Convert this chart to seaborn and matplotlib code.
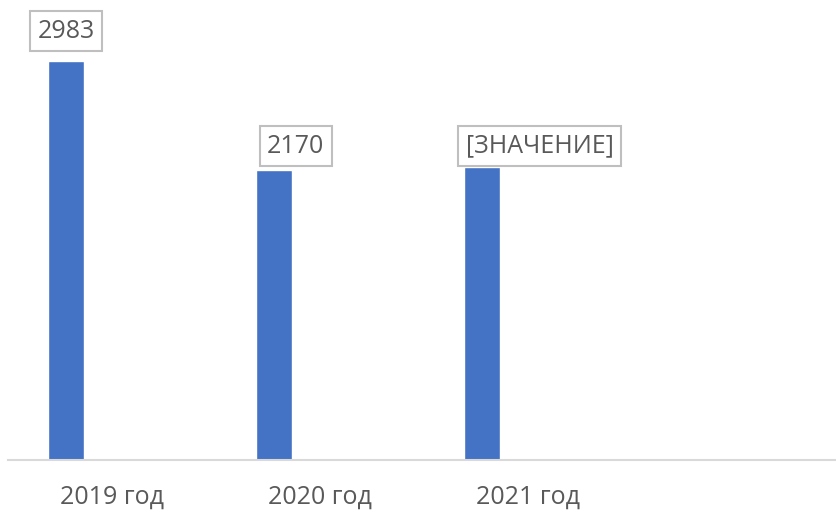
import pandas as pd
import matplotlib.pyplot as plt
import seaborn as sns

# data
years = ['2019 год', '2020 год', '2021 год']
values = [2983, 2170, 2190]
bar_labels = ['2983', '2170', '[ЗНАЧЕНИЕ]']
series = ['Ряд 1', 'Ряд 2', 'Ряд 3']

rows = []
for y, v in zip(years, values):
    rows.append({'year': y, 'series': series[0], 'value': v})
    for s in series[1:]:
        rows.append({'year': y, 'series': s, 'value': float('nan')})
df = pd.DataFrame(rows)

sns.set_style('white')
plt.rcParams['font.family'] = ['Open Sans', 'DejaVu Sans']

fig = plt.figure(figsize=(8.37, 5.12), dpi=100)
ax = fig.add_axes([8 / 837, 52 / 512, 829 / 837, 460 / 512])

sns.barplot(data=df, x='year', y='value', hue='series', hue_order=series,
            order=years, width=0.663, gap=0.22, saturation=1,
            palette=['#4472C4'] * 3, legend=False, ax=ax, errorbar=None)

ax.set_xlim(-0.5, 3.486)
ax.set_ylim(0, 3439)
for side in ['top', 'right', 'left']:
    ax.spines[side].set_visible(False)
ax.spines['bottom'].set_color('#D9D9D9')
ax.spines['bottom'].set_linewidth(1.5)
ax.set_yticks([])
ax.set_xlabel('')
ax.set_ylabel('')
ax.tick_params(axis='x', length=0, pad=18, labelsize=18, labelcolor='#595959')

# data labels (the 2020 and 2021 labels were moved by hand in the original)
label_offsets = [(0, 17), (11, 11), (1.5, 9)]
bars = [p for p in ax.patches if p.get_height() == p.get_height() and p.get_height() > 0]
bars = sorted(bars, key=lambda p: p.get_x())
for i, (p, lab) in enumerate(zip(bars, bar_labels)):
    dx, dy = label_offsets[i]
    if i == 0:
        x, ha = p.get_x() + p.get_width() / 2, 'center'
    else:
        x, ha = p.get_x(), 'left'
    ax.annotate(lab, (x, p.get_height()), xytext=(dx, dy), textcoords='offset pixels',
                ha=ha, va='bottom', fontsize=18, color='#595959',
                bbox=dict(boxstyle='square,pad=0.3', fc='white', ec='#BFBFBF', lw=1.5))

fig.savefig('out.png', dpi=100)
